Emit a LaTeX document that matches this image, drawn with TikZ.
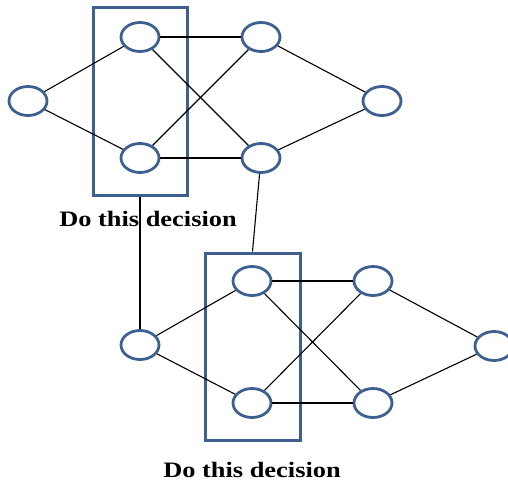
\documentclass[tikz,border=0pt]{standalone}
\usepackage{fontspec}
\setmainfont{Liberation Serif}
\usetikzlibrary{shapes.geometric}
\definecolor{nodeblue}{HTML}{3E6090}
\begin{document}
\begin{tikzpicture}[x=1pt,y=-1pt,
  vtx/.style={ellipse,draw=nodeblue,line width=2.8pt,minimum width=38pt,minimum height=29pt,inner sep=0pt,fill=white},
  dbox/.style={draw=nodeblue,line width=3pt},
  edge/.style={draw=black,line width=1.1pt},
  lbl/.style={font=\bfseries\fontsize{22}{24}\selectfont,xscale=1.2}]
\useasboundingbox (0,0) rectangle (508,487);
% top graph
\node[vtx] (L1) at (28,101) {};
\node[vtx] (A1) at (140,37) {};
\node[vtx] (B1) at (140,158) {};
\node[vtx] (C1) at (261,37) {};
\node[vtx] (D1) at (261,158) {};
\node[vtx] (R1) at (382,101) {};
% bottom graph
\node[vtx] (L2) at (140,345) {};
\node[vtx] (A2) at (252,281) {};
\node[vtx] (B2) at (252,403) {};
\node[vtx] (C2) at (373,281) {};
\node[vtx] (D2) at (373,403) {};
\node[vtx] (R2) at (494,346) {};
% boxes
\node[dbox,minimum width=94pt,minimum height=187pt,inner sep=0pt] (box1) at (140,101.5) {};
\node[dbox,minimum width=95pt,minimum height=187pt,inner sep=0pt] (box2) at (252.5,346.5) {};
% labels
\node[lbl] (t1) at (148,219) {Do this decision};
\node[lbl] (t2) at (252,470) {Do this decision};
% edges
\foreach \i in {1,2}{
  \draw[edge] (L\i) -- (A\i);
  \draw[edge] (L\i) -- (B\i);
  \draw[edge] (A\i) -- (C\i);
  \draw[edge] (A\i) -- (D\i);
  \draw[edge] (B\i) -- (C\i);
  \draw[edge] (B\i) -- (D\i);
  \draw[edge] (C\i) -- (R\i);
  \draw[edge] (D\i) -- (R\i);
}
\draw[edge] (box1.south) -- (L2);
\draw[edge] (D1) -- (box2.north);
\end{tikzpicture}
\end{document}
